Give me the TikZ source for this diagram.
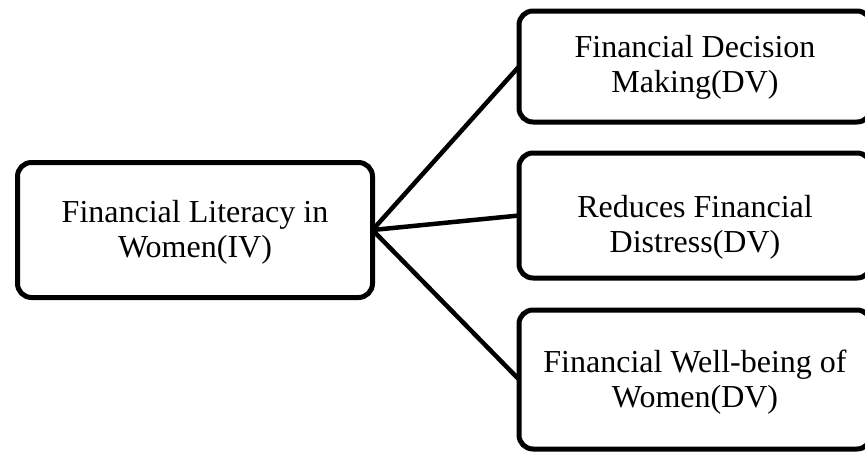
\documentclass[tikz,border=0pt]{standalone}
\usepackage{fontspec}
\setmainfont{Liberation Serif}
\begin{document}
\begin{tikzpicture}[x=1pt,y=-1pt,
  box/.style={draw=black, line width=5pt, rounded corners=14pt, inner sep=0pt, outer sep=0pt, fill=white},
  lbl/.style={align=center, inner sep=0pt, anchor=base, font=\fontsize{32}{35}\selectfont},
  link/.style={draw=black, line width=4.5pt}]
\useasboundingbox (0,0) rectangle (865,453);
\node[box, minimum width=355pt, minimum height=135pt] (iv) at (195,230) {};
\node[box, minimum width=352pt, minimum height=111pt] (dv1) at (695,66.5) {};
\node[box, minimum width=352pt, minimum height=125pt] (dv2) at (695,215.5) {};
\node[box, minimum width=352pt, minimum height=139pt] (dv3) at (695,379.5) {};
\node[lbl] (tiv) at (195,257) {Financial Literacy in\\Women(IV)};
\node[lbl] (tdv1) at (695,92) {Financial Decision\\Making(DV)};
\node[lbl] (tdv2) at (695,252) {Reduces Financial\\Distress(DV)};
\node[lbl] (tdv3) at (695,407) {Financial Well-being of\\Women(DV)};
\draw[link] (iv.east) -- (dv1.west);
\draw[link] (iv.east) -- (dv2.west);
\draw[link] (iv.east) -- (dv3.west);
\end{tikzpicture}
\end{document}
